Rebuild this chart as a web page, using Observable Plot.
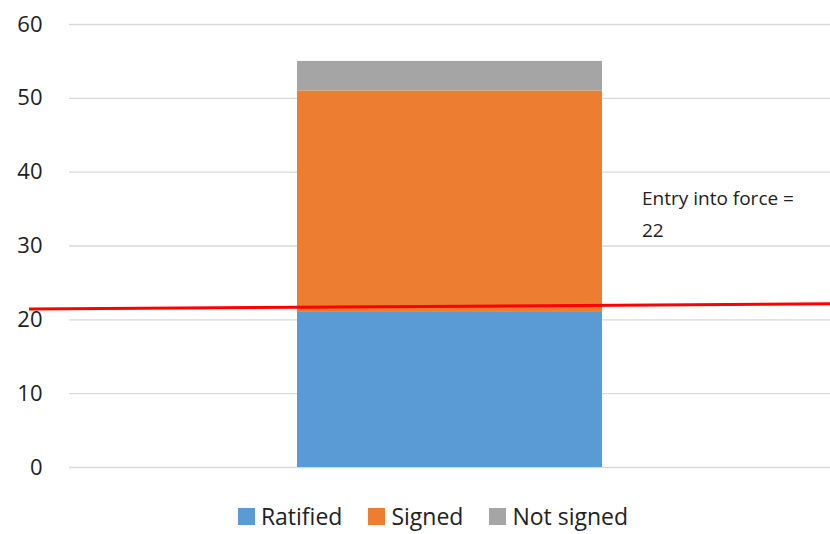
<!DOCTYPE html>
<html>
<head>
<meta charset="utf-8">
<script src="https://cdn.jsdelivr.net/npm/d3@7"></script>
<script src="https://cdn.jsdelivr.net/npm/@observablehq/plot@0.6"></script>
<style>
  body { margin: 0; background: #fff; font-family: "Open Sans", sans-serif; }
  #legend { display: flex; justify-content: center; gap: 26px; height: 32px; line-height: 32px; align-items: center; font-size: 23px; color: #222; padding-left: 36px; }
  #legend span.item { display: flex; align-items: center; gap: 6px; }
  #legend span.sw { width: 17px; height: 17px; display: inline-block; }
</style>
</head>
<body>
<div id="chart"></div>
<div id="legend"></div>
<script>
const categories = ["Treaty"];
const series = ["Ratified", "Signed", "Not signed"];
const values = [21, 30, 4];
const colors = ["#5b9bd5", "#ed7d31", "#a5a5a5"];
const yTicks = [0, 10, 20, 30, 40, 50, 60];
const thresholdLine = [21.4, 22.1];
const annotation = "Entry into force =\n22";
const annotationY = 38.5;

const rows = series.map((s, i) => ({category: categories[0], series: s, value: values[i]}));

const redLine = (index, scales, vals, dims) => {
  const g = d3.create("svg:g");
  g.append("line")
    .attr("x1", dims.marginLeft - 40)
    .attr("x2", dims.width)
    .attr("y1", scales.y(thresholdLine[0]))
    .attr("y2", scales.y(thresholdLine[1]))
    .attr("stroke", "#ff0000")
    .attr("stroke-width", 3);
  return g.node();
};

const plot = Plot.plot({
  width: 830,
  height: 500,
  marginTop: 24,
  marginBottom: 33,
  marginLeft: 69,
  marginRight: 0,
  style: {fontFamily: "Open Sans, sans-serif", fontSize: "22px", color: "#222", overflow: "visible"},
  x: {domain: categories, padding: 0.427, axis: null},
  y: {domain: [0, 60], ticks: yTicks, tickSize: 0, tickPadding: 27, label: null, grid: false},
  color: {domain: series, range: colors},
  marks: [
    Plot.ruleY(yTicks, {stroke: "#d9d9d9", strokeWidth: 1.3}),
    Plot.barY(rows, Plot.stackY({x: "category", y: "value", fill: "series", order: series})),
    redLine,
    Plot.text([annotation], {x: () => categories[0], y: annotationY, text: d => d, dx: 192, textAnchor: "start", lineAnchor: "top", fontSize: 19, lineHeight: 1.65, fill: "#222"})
  ]
});
document.getElementById("chart").appendChild(plot);

const legend = document.getElementById("legend");
series.forEach((s, i) => {
  const item = document.createElement("span");
  item.className = "item";
  const sw = document.createElement("span");
  sw.className = "sw";
  sw.style.background = colors[i];
  item.appendChild(sw);
  item.appendChild(document.createTextNode(s));
  legend.appendChild(item);
});
</script>
</body>
</html>
